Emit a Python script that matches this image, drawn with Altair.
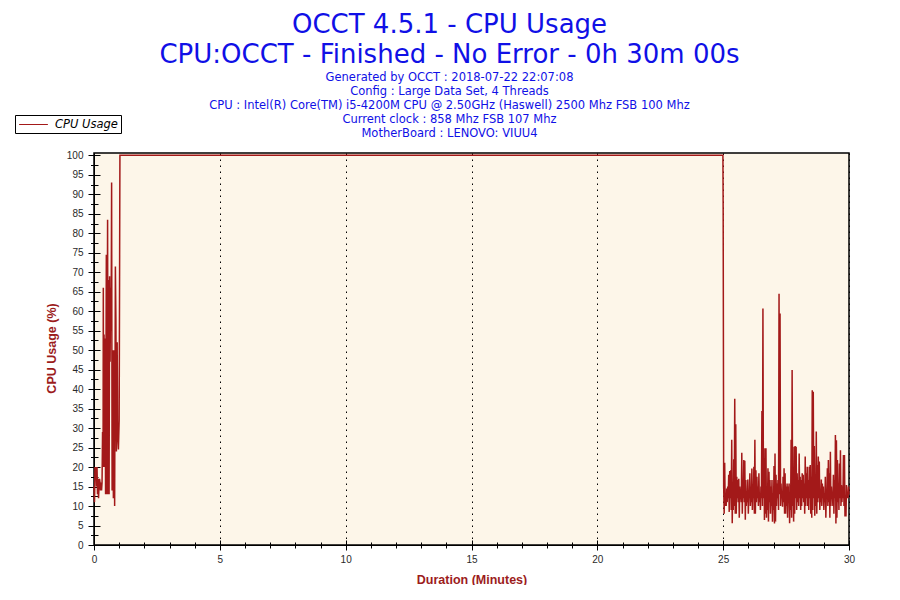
import altair as alt
import pandas as pd
import numpy as np

TITLE_LINES = ["OCCT 4.5.1 - CPU Usage", "CPU:OCCT - Finished - No Error - 0h 30m 00s"]
SUBTITLE_LINES = [
    "Generated by OCCT : 2018-07-22 22:07:08",
    "Config : Large Data Set, 4 Threads",
    "CPU : Intel(R) Core(TM) i5-4200M CPU @ 2.50GHz (Haswell) 2500 Mhz FSB 100 Mhz",
    "Current clock : 858 Mhz FSB 107 Mhz",
    "MotherBoard : LENOVO: VIUU4",
]
SERIES = "CPU Usage"
X_TITLE = "Duration (Minutes)"
Y_TITLE = "CPU Usage (%)"

# warm-up segment (minutes, % usage)
start_minutes = [0.00, 0.02, 0.04, 0.06, 0.08, 0.10, 0.12, 0.14, 0.16, 0.18,
                 0.20, 0.22, 0.24, 0.26, 0.28, 0.30, 0.32, 0.34, 0.36, 0.37,
                 0.38, 0.40, 0.42, 0.44, 0.46, 0.49, 0.51, 0.54, 0.56, 0.58,
                 0.60, 0.62, 0.64, 0.66, 0.68, 0.70, 0.72, 0.75, 0.77, 0.80,
                 0.82, 0.85, 0.87, 0.89, 0.92, 0.94, 0.97, 1.00]
start_usage = [15, 11, 20, 17, 20, 15, 20, 13, 17, 12,
               15, 17, 16, 14, 16, 14, 16, 29, 20, 66,
               20, 54, 20, 53, 13, 74.5, 13, 83.5, 13, 68,
               13, 69, 47, 66, 55, 93, 14, 50, 12, 50,
               10, 71.5, 58, 24, 52, 28, 24.5, 32]

# full-load plateau
plateau_minutes = [1.03, 24.99]
plateau_usage = [100, 100]

# end of test
drop_minutes = [25.0]
drop_usage = [86]

# idle tail after the test: peak and trough of each sample pair
tail_peaks = [15, 21.1, 13, 14.5, 15, 18, 19, 19.2, 27, 16,
              22, 37.5, 31, 17.5, 16.7, 17, 15, 13.2, 23.7, 16.7,
              21.8, 21.6, 16.7, 13.2, 16.8, 14.1, 18.4, 13.2, 19.6, 15.6,
              20.1, 27, 19.2, 17.5, 15, 18.4, 13.2, 15, 34.4, 60.7,
              22.2, 24.8, 24.8, 13.2, 19.7, 18.8, 16.7, 15, 16.7, 13.2,
              20.3, 23.5, 18, 15.8, 16.7, 64.5, 59.4, 15.8, 13.2, 17.5,
              19.7, 18.4, 15, 15.8, 15, 15.8, 13.2, 27, 44.9, 16.7,
              25.2, 25.4, 25.2, 18.4, 16.7, 23.5, 17.5, 16.7, 18.4, 18,
              15.8, 22.7, 18.4, 20.1, 16.7, 20.1, 20.5, 17.5, 39.7, 39.3,
              25.4, 17.5, 29.1, 20.5, 22.7, 21.4, 13.2, 16.8, 15.8, 15,
              13.2, 17.5, 13.2, 19.7, 21.8, 18.4, 23.9, 15, 13.2, 18,
              16.7, 28.2, 26.9, 21.8, 15.8, 20.9, 24.3, 15.4, 15, 23.1,
              23.1, 9.8, 15.4, 13.2, 15]
tail_troughs = [8, 10, 10, 11, 12, 8.5, 12, 9, 5.6, 9,
                10, 8, 8, 12, 11, 7, 12, 11, 8, 12,
                11, 6.5, 10, 11, 8, 12, 10, 11, 9, 12,
                8, 8, 11, 12, 10, 11, 9, 12, 10, 12,
                6.4, 8, 7, 9, 6, 11, 8, 10, 6, 9,
                5.5, 6, 10, 12, 9, 13, 10, 12, 9.8, 11,
                8, 8, 10, 7, 12, 5.6, 9, 7, 10, 6,
                8, 12, 9, 11, 10, 12, 9, 10, 12, 11,
                8, 10, 12, 10, 9, 12, 8, 7, 9, 12,
                7.5, 10, 8, 11, 12, 9, 11, 10, 12, 9,
                11, 7, 12, 10, 11, 7, 10, 12, 10, 8,
                12, 5.5, 7, 11, 9, 12, 10, 11, 12, 10,
                7.3, 7.3, 12, 12, 13]

X_MAJOR = [0, 5, 10, 15, 20, 25, 30]
X_MINOR = [m for m in range(0, 31) if m % 5 != 0]
Y_MAJOR = list(range(0, 101, 5))
Y_MINOR = [v + 2.5 for v in range(0, 100, 5)]

RED = "#a31919"
AXIS_RED = "#9c1c1c"
BLUE = "#1010e6"
BG = "#fdf6e9"

# assemble
tail_usage = []
for p, t in zip(tail_peaks, tail_troughs):
    tail_usage += [p, t]
tail_minutes = list(np.linspace(25.02, 30.0, len(tail_usage)))

minutes = start_minutes + plateau_minutes + drop_minutes + tail_minutes
usage = start_usage + plateau_usage + drop_usage + tail_usage
df = pd.DataFrame({"minutes": minutes, "usage": usage,
                   "idx": range(len(minutes)), "series": SERIES})

xscale = alt.Scale(domain=[0, 30], nice=False, zero=False)
yscale = alt.Scale(domain=[0, 100.6], nice=False)

lab = dict(labelFont="Liberation Sans", labelFontSize=10, labelColor="#2a2a2a",
           labelFlush=False)

x_main = alt.Axis(values=X_MAJOR, orient="bottom", tickSize=5, tickColor="black",
                  domainColor="black", labelPadding=4, grid=True, gridColor="black",
                  gridDash=[1.5, 4.5], gridWidth=1, title=X_TITLE,
                  titleFont="Liberation Sans", titleFontSize=12.5, titleFontWeight="bold",
                  titleColor=AXIS_RED, titleX=377.5, titleY=34, titleBaseline="middle",
                  format="d", **lab)
y_main = alt.Axis(values=Y_MAJOR, orient="left", tickSize=6, tickColor="black",
                  domainColor="black", labelPadding=5, grid=False, title=Y_TITLE,
                  titleFont="Liberation Sans", titleFontSize=12.5, titleFontWeight="bold",
                  titleColor=AXIS_RED, titleX=-43, titleY=195, titleBaseline="middle",
                  titleAngle=-90, format="d", **lab)


def ghost_axis(vals, orient, size, offset):
    return alt.Axis(values=vals, orient=orient, tickSize=size, offset=offset,
                    tickColor="black", labels=False, domain=False, grid=False,
                    title=None)


base = alt.Chart(df)

line = base.mark_line(strokeWidth=1.5).encode(
    x=alt.X("minutes:Q", scale=xscale, axis=x_main),
    y=alt.Y("usage:Q", scale=yscale, axis=y_main),
    order="idx:Q",
    color=alt.Color("series:N",
                    scale=alt.Scale(domain=[SERIES], range=[RED]),
                    legend=alt.Legend(title=None, orient="none", legendX=-79, legendY=-38,
                                      symbolType="M-2.4,0H2.4", symbolSize=144,
                                      symbolOffset=9, symbolStrokeWidth=1,
                                      strokeColor="black", fillColor="white", padding=3,
                                      labelFont="DejaVu Sans", labelFontSize=11.5,
                                      labelFontStyle="italic", labelColor="black",
                                      labelOffset=15)),
)


def ghost(xa, ya):
    return base.mark_point(opacity=0, size=1).encode(
        x=alt.X("minutes:Q", scale=xscale, axis=xa),
        y=alt.Y("usage:Q", scale=yscale, axis=ya),
    )


g1 = ghost(ghost_axis(X_MAJOR, "bottom", 5, -5), ghost_axis(Y_MAJOR, "left", 6, -6))
g2 = ghost(ghost_axis(X_MINOR, "bottom", 3, 0), ghost_axis(Y_MINOR, "left", 3.5, 0))
g3 = ghost(ghost_axis(X_MINOR, "bottom", 3, -3), ghost_axis(Y_MINOR, "left", 4, -4))

chart = alt.layer(line, g1, g2, g3).resolve_scale(
    x="shared", y="shared"
).resolve_axis(
    x="independent", y="independent"
).properties(
    width=755, height=392,
    autosize=alt.AutoSizeParams(type="none"),
    padding={"left": 86, "top": 145, "right": 35, "bottom": 40},
    title=alt.TitleParams(text=TITLE_LINES, subtitle=SUBTITLE_LINES, anchor="middle",
                          frame="group", dx=-22, offset=-25,
                          font="DejaVu Sans", fontSize=26, fontWeight="normal",
                          color=BLUE, lineHeight=30,
                          subtitleFont="DejaVu Sans", subtitleFontSize=11.5,
                          subtitleColor=BLUE, subtitleLineHeight=14,
                          subtitlePadding=4),
).configure_view(
    fill=BG, stroke="black", strokeWidth=1.5
)

chart.save("out.html", embed_options={"renderer": "svg", "actions": False})
